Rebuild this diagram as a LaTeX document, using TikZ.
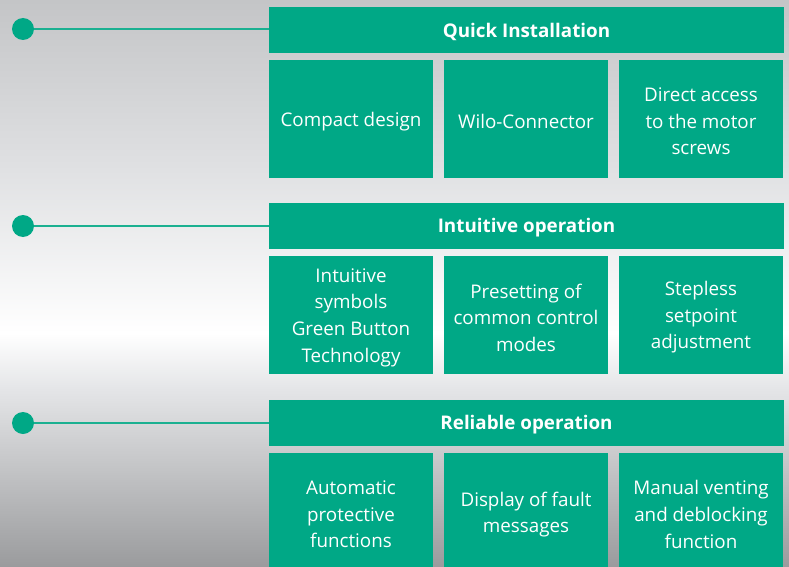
\documentclass[tikz,border=0pt]{standalone}
\usepackage{fontspec}
\setmainfont{Open Sans}
\definecolor{wgreen}{HTML}{00A886}
\definecolor{wline}{HTML}{1BB091}
\definecolor{bgA}{HTML}{C4C5C7}
\definecolor{bgB}{HTML}{E0E1E3}
\definecolor{bgC}{HTML}{FFFFFF}
\definecolor{bgD}{HTML}{E6E7E9}
\definecolor{bgE}{HTML}{9A9B9D}
\tikzset{
  header/.style={fill=wgreen, minimum width=515, minimum height=46, inner sep=0pt},
  htxt/.style={text=white, inner sep=0pt, font=\fontsize{18.8}{26.5}\selectfont\bfseries},
  feat/.style={fill=wgreen, minimum width=164, minimum height=118, inner sep=0pt},
  ftxt/.style={text=white, inner sep=0pt, align=center, font=\fontsize{18.8}{26.6}\selectfont},
  dot/.style={circle, fill=wgreen, minimum size=22, inner sep=0pt},
  link/.style={draw=wline, line width=2.5}
}
\begin{document}
\begin{tikzpicture}[x=1pt,y=-1pt]
\useasboundingbox (0,0) rectangle (789,567);
\clip (0,0) rectangle (789,567);
% background
\shade[top color=bgA, bottom color=bgB] (0,0) rectangle (789,170.5);
\shade[top color=bgB, bottom color=bgC] (0,170) rectangle (789,333.5);
\shade[top color=bgC, bottom color=bgD] (0,333) rectangle (789,385.5);
\shade[top color=bgD, bottom color=bgE] (0,385) rectangle (789,567);
% section 1
\node[header] (h1) at (526.5,30) {};
\node[htxt] (h1t) at ([yshift=-2pt]h1.center) {Quick Installation};
\node[feat] (a1) at (351,119) {};
\node[feat] (a2) at (526,119) {};
\node[feat] (a3) at (701,119) {};
\node[ftxt] (a1t) at ([yshift=-2.5pt]a1.center) {Compact design};
\node[ftxt] (a2t) at ([yshift=-2.5pt]a2.center) {Wilo-Connector};
\node[ftxt] (a3t) at ([yshift=-2.5pt]a3.center) {Direct access\\to the motor\\screws};
\node[dot] (c1) at (23,29) {};
\draw[link] (c1) -- (c1 -| h1.west);
% section 2
\node[header] (h2) at (526.5,226) {};
\node[htxt] (h2t) at ([yshift=-2pt]h2.center) {Intuitive operation};
\node[feat] (b1) at (351,315) {};
\node[feat] (b2) at (526,315) {};
\node[feat] (b3) at (701,315) {};
\node[ftxt] (b1t) at ([yshift=-2.5pt]b1.center) {Intuitive\\symbols\\Green Button\\Technology};
\node[ftxt] (b2t) at ([yshift=-2.5pt]b2.center) {Presetting of\\common control\\modes};
\node[ftxt] (b3t) at ([yshift=-2.5pt]b3.center) {Stepless\\setpoint\\adjustment};
\node[dot] (c2) at (23,226) {};
\draw[link] (c2) -- (c2 -| h2.west);
% section 3
\node[header] (h3) at (526.5,423) {};
\node[htxt] (h3t) at ([yshift=-2pt]h3.center) {Reliable operation};
\node[feat] (d1) at (351,512) {};
\node[feat] (d2) at (526,512) {};
\node[feat] (d3) at (701,512) {};
\node[ftxt] (d1t) at ([yshift=-2.5pt]d1.center) {Automatic\\protective\\functions};
\node[ftxt] (d2t) at ([yshift=-2.5pt]d2.center) {Display of fault\\messages};
\node[ftxt] (d3t) at ([yshift=-2.5pt]d3.center) {Manual venting\\and deblocking\\function};
\node[dot] (c3) at (23,423) {};
\draw[link] (c3) -- (c3 -| h3.west);
\end{tikzpicture}
\end{document}
